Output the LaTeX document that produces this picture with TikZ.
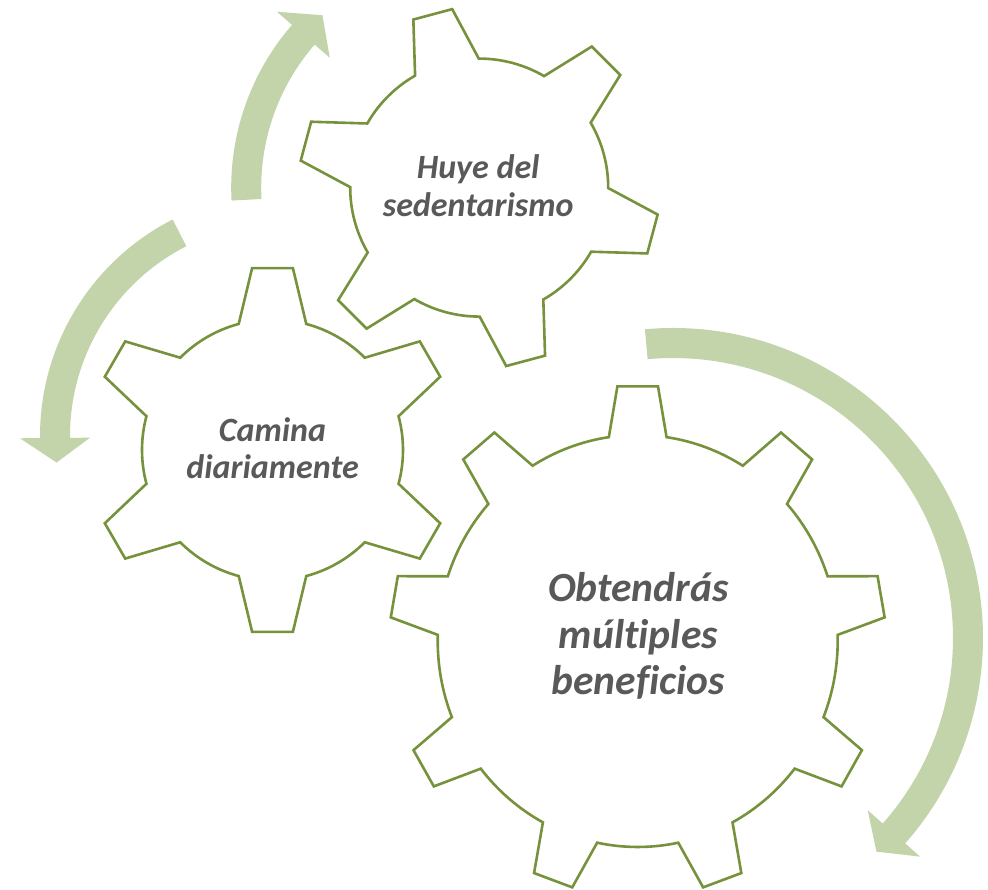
\documentclass[tikz,border=0pt]{standalone}
\usepackage{fontspec}
\setmainfont{Carlito}[Ligatures=NoCommon]
\usepackage{xcolor}
\usetikzlibrary{calc}

\definecolor{gearolive}{HTML}{76923C}
\definecolor{arrowsage}{HTML}{C3D3AA}
\definecolor{labelgray}{HTML}{595959}

% gear outline: #1 options, #2 teeth, #3 first tooth angle, #4 inner radius, #5 outer radius, #6 half base angle, #7 half tip angle
\newcommand{\gearoutline}[7]{%
  \pgfmathsetmacro{\gearstep}{360/#2}%
  \draw[gear, #1] (#3-#6:#4)
    \foreach \k in {1,...,#2}{
      -- ({#3+(\k-1)*\gearstep-#7}:#5) -- ({#3+(\k-1)*\gearstep+#7}:#5)
      -- ({#3+(\k-1)*\gearstep+#6}:#4)
      arc[start angle={#3+(\k-1)*\gearstep+#6}, end angle={#3+\k*\gearstep-#6}, radius=#4]
    } -- cycle;}

% curved arrow: #1 centre, #2 mid radius, #3 tail angle, #4 head angle, #5 tip angle
\newcommand{\bentarrow}[5]{%
  \fill[sweep, shift={#1}] (#3:#2+15) arc[start angle=#3, end angle=#4, radius=#2+15]
    -- (#4:#2+35) -- (#5:#2) -- (#4:#2-35) -- (#4:#2-15)
    arc[start angle=#4, end angle=#3, radius=#2-15] -- cycle;}

\begin{document}
\begin{tikzpicture}[x=1pt, y=1pt, line join=miter,
    gear/.style={draw=gearolive, line width=2.6pt, fill=white},
    sweep/.style={fill=arrowsage, draw=none}]
    \tikzstyle{gearlabel} = [text=labelgray, align=center, inner sep=0pt]

    \useasboundingbox (0,0) rectangle (988,890);

    % Centres of gears and arrows
    \coordinate (hubTop) at (479.2,702.4);
    \coordinate (hubLeft) at (272.5,440);
    \coordinate (hubBig) at (637.7,249);
    \coordinate (swingLeft) at (283,454);
    \coordinate (swingRight) at (673,252);

    % Curved arrows
    \bentarrow{(hubTop)}{233}{183}{139}{132.3}
    \bentarrow{(swingLeft)}{228}{117}{180.5}{186.7}
    \bentarrow{(swingRight)}{295}{95.2}{-41.5}{-46.4}

    % Gears
    \gearoutline{shift={(hubTop)}}{6}{105}{129}{180.5}{14.8}{6.4}
    \gearoutline{shift={(hubLeft)}}{6}{90}{130.5}{183}{15}{6.4}
    \gearoutline{shift={(hubBig)}, yscale=1.03}{9}{90}{200}{248}{8.3}{4.7}

    % Labels
    \node[gearlabel, font=\fontsize{34}{38.7}\selectfont\bfseries\itshape] (huye) at ($(hubTop)+(-1,2)$) {Huye del\\sedentarismo};
    \node[gearlabel, font=\fontsize{34}{37.3}\selectfont\bfseries\itshape] (camina) at ($(hubLeft)+(0,2)$) {Camina\\diariamente};
    \node[gearlabel, font=\fontsize{41.5}{46.7}\selectfont\bfseries\itshape] (obtendras) at ($(hubBig)+(0.6,5)$) {Obtendrás\\múltiples\\beneficios};
\end{tikzpicture}
\end{document}
